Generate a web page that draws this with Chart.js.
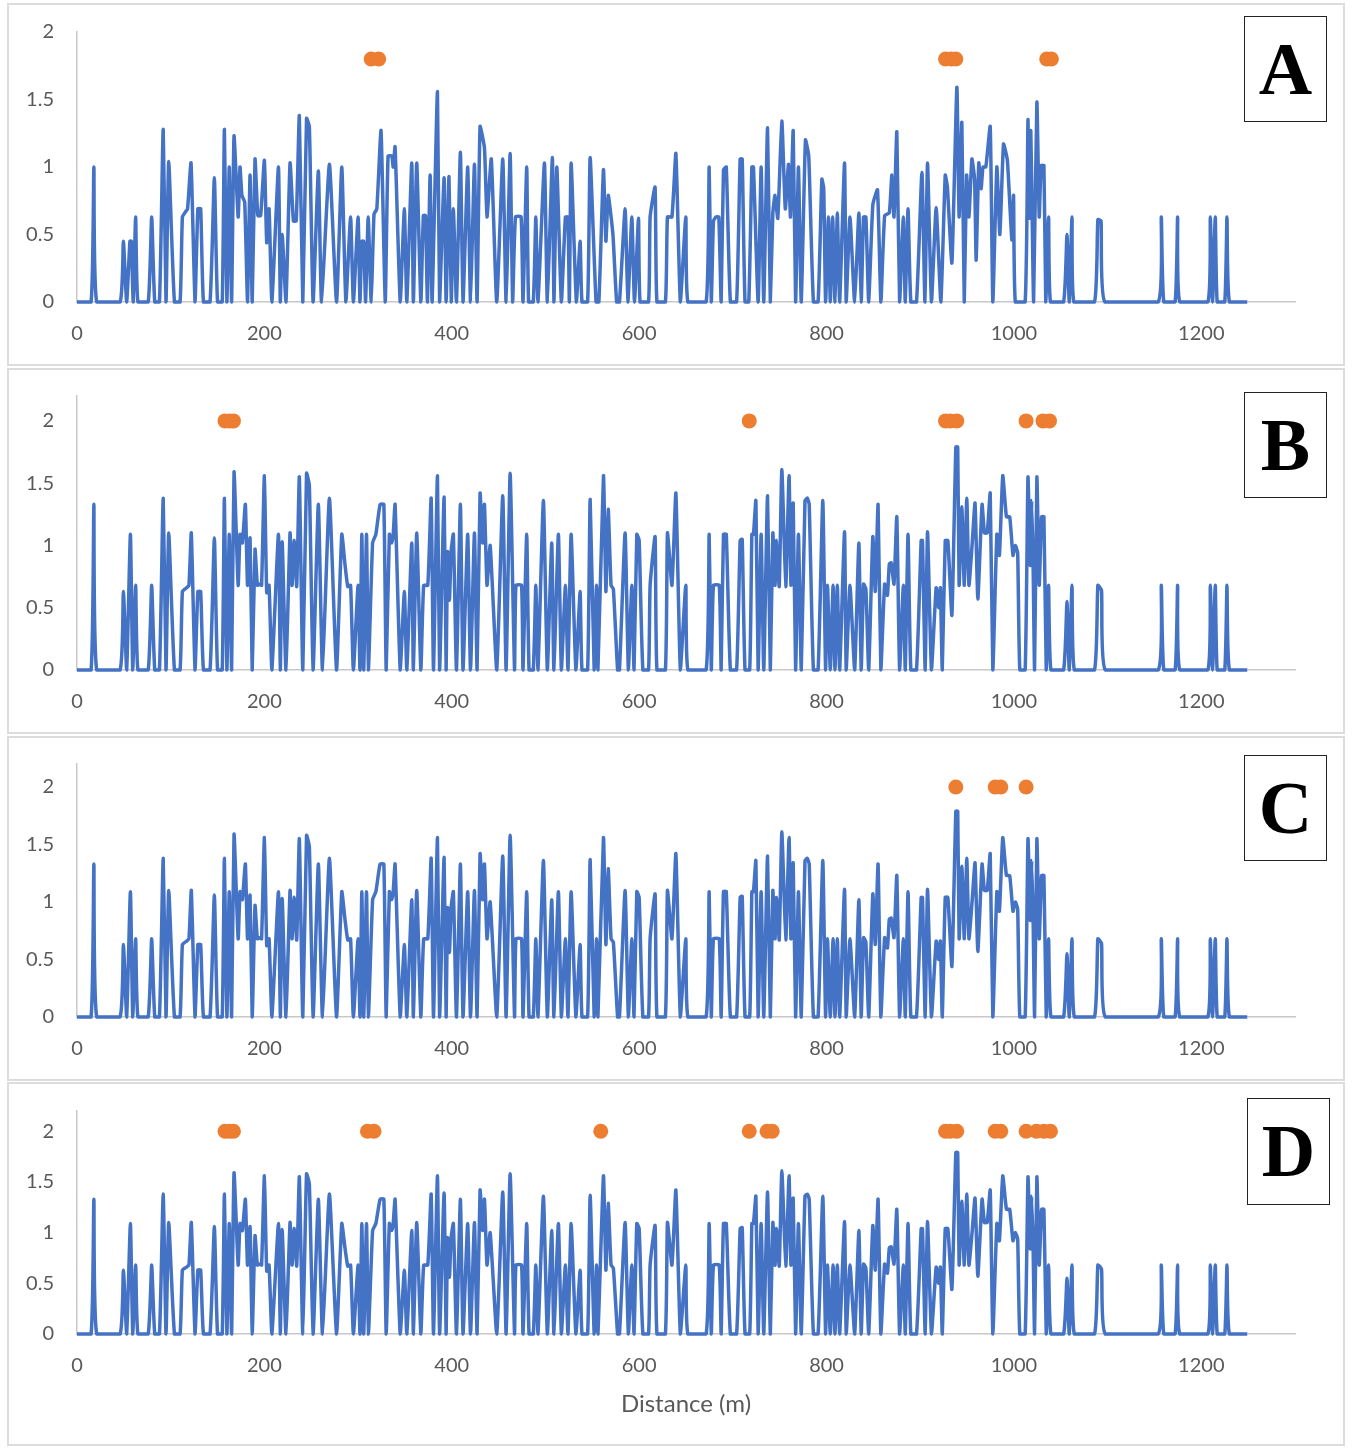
<!DOCTYPE html>
<html>
<head>
<meta charset="utf-8">
<script src="https://cdn.jsdelivr.net/npm/chart.js@4.4.1/dist/chart.umd.min.js"></script>
<style>
  body { margin: 0; background: #fff; width: 1352px; height: 1448px; position: relative; overflow: hidden; }
  .panel { position: absolute; left: 7px; width: 1338px; border: 2px solid #dcdcdc; box-sizing: border-box; }
  canvas { position: absolute; }
  .tag { position: absolute; width: 83px; height: 106px; border: 1.5px solid #222; background: #fff; box-sizing: border-box;
         display: flex; align-items: center; justify-content: center;
         font-family: "Liberation Serif", "DejaVu Serif", serif; font-weight: bold; font-size: 74px; color: #000; }
</style>
</head>
<body>
<div class="panel" style="top:3px;height:363px"></div>
<div class="panel" style="top:368px;height:366px"></div>
<div class="panel" style="top:736px;height:345px"></div>
<div class="panel" style="top:1082px;height:364px"></div>

<canvas id="chartA" width="1336" height="358" style="left:9px;top:5px"></canvas>
<canvas id="chartB" width="1336" height="361" style="left:9px;top:370px"></canvas>
<canvas id="chartC" width="1336" height="340" style="left:9px;top:738px"></canvas>
<canvas id="chartD" width="1336" height="359" style="left:9px;top:1084px"></canvas>

<div class="tag" style="left:1244px;top:16px">A</div>
<div class="tag" style="left:1244px;top:392px">B</div>
<div class="tag" style="left:1244px;top:755px">C</div>
<div class="tag" style="left:1247px;top:1098px;height:107px">D</div>

<script>
// 축 눈금
const xTicks = [0, 200, 400, 600, 800, 1000, 1200];
const yTicks = [0, 0.5, 1, 1.5, 2];

// 패널 A 선 데이터 [거리(m), 값]
const lineA = [
  [0,0],[15,0],[18,1.0],[21,0],[46,0],[49.5,0.45],[53,0],[56.5,0.45],[58,0.45],[60,0],[62.6,0.63],[65,0],
  [76,0],[79.7,0.63],[83,0],[88,0],[92,1.28],[95,0],[97.9,1.04],[104,0],[110,0],[112.5,0.63],[116,0.67],
  [118,0.69],[121.7,1.03],[126,0],[129,0.69],[132,0.69],[135,0],[142,0],[146.6,0.92],[150,0],[155,0],
  [157.3,1.28],[160,0],[162.5,1.0],[165,0],[167.6,1.23],[172,0.63],[174,1.0],[176,0.79],[179,0.74],[182,0],
  [184.7,0.94],[187,0],[190,1.06],[193,0.64],[196,0.64],[200,1.05],[202.5,0.44],[205,0.69],[208,0],
  [215,1.0],[217,0],[219,0.5],[223,0],[227.4,1.03],[231,0.6],[234,0.6],[237.3,1.38],[241,0],[245,1.36],
  [248,1.3],[252,0],[257.6,0.97],[261,0],[269.4,1.02],[277,0],[282.6,1.0],[287,0],[292,0.63],[295,0],
  [300,0.63],[302,0],[304,0.45],[306,0.45],[308,0],[310.8,0.63],[314,0],[317,0.65],[320,0.69],[324.5,1.27],
  [329,0],[332,1.08],[336,1.08],[337.5,1.0],[339.5,1.15],[345,0],[349.4,0.69],[352,0],[357.3,1.03],[359,0],
  [362.6,1.03],[367,0],[369.7,0.64],[372,0.64],[374,0],[376.9,0.94],[379,0],[384.7,1.56],[387,0],
  [391.8,0.92],[394,0],[397,0.93],[399.5,0],[401.7,0.69],[405,0],[409.2,1.11],[412,0],[417,1.0],[420,0],
  [424.2,1.02],[427,0],[430.2,1.3],[434.9,1.14],[437.6,0.63],[442.2,1.06],[448,0],[454.4,1.06],[458,0],
  [462.3,1.1],[465,0],[468,0.63],[474,0.63],[476,0],[480,1.0],[482,0],[487,0],[489.7,0.63],[492,0],
  [498.9,1.03],[502,0],[507.4,1.07],[509,0],[512.1,1.0],[517,0],[521.3,0.63],[524,0.63],[525.5,0],
  [527.4,1.03],[533,0],[537,0.45],[539,0],[545,0],[547.7,1.07],[554,0],[557,0],[561.9,0.98],[564.5,0.45],
  [567,0.79],[572,0.5],[576,0],[579,0],[585,0.69],[588,0],[592.2,0.63],[595,0],[599.3,0.62],[601,0],
  [610,0],[611.7,0.63],[617,0.85],[619,0],[628,0],[630.2,0.63],[635,0.63],[639.2,1.1],[644,0],
  [649.8,0.63],[652,0],[671.5,0],[674.7,1.0],[677,0],[679.3,0.6],[682,0.63],[685,0.63],[687.5,0],
  [690,0.98],[693,1.0],[697.4,0],[704,0],[707.8,1.06],[710,1.06],[713,0],[717,0],[720.3,1.0],[722,1.0],
  [727,0],[730.2,1.0],[733,0],[737,1.29],[740,0],[742.7,0.66],[745,0.79],[748,0.62],[752.3,1.34],
  [756,0.69],[759.4,1.02],[761.5,0.63],[764.4,1.27],[767,0],[770,1.0],[773,0],[777.5,1.2],[781,1.08],
  [786,0],[791,0],[795,0.91],[797,0.84],[799,0],[802,0.63],[804,0],[806.5,0.63],[809,0],[811.5,0.66],
  [814,0],[819.2,1.03],[821,0],[825,0.63],[830,0],[834.5,0.66],[837,0],[839.5,0.63],[842,0.63],[845,0],
  [849.4,0.72],[854.4,0.83],[858,0],[862,0.64],[867,0.66],[869.7,0.94],[872,0.63],[875,1.26],[878,0],
  [882,0.63],[884,0],[887,0.69],[890,0],[896,0],[901.8,0.96],[905,0],[907.8,1.03],[912,0],[917,0.7],
  [922,0],[926.7,0.94],[929,0.85],[933.8,0.29],[939.1,1.59],[941.5,0.63],[944.4,1.33],[947,0],
  [949.5,0.94],[952,0.63],[955.1,1.06],[958,0.91],[959.7,0.31],[962.5,1.03],[965,0.84],[967,1.0],
  [970,1.0],[974.7,1.3],[977.5,0],[981.8,1.0],[985,0.5],[988.9,1.17],[993,1.05],[997.8,0.46],
  [999.6,0.79],[1001.5,0],[1012,0],[1015,1.35],[1016.5,0.62],[1018,1.27],[1019.5,0.62],[1021,0],
  [1024.5,1.48],[1027,0.63],[1029,1.01],[1032,1.01],[1034,0],[1037,0.63],[1039,0],[1053,0],[1056.6,0.5],
  [1059,0],[1062,0.63],[1064,0],[1086,0],[1089.6,0.61],[1093,0.6],[1097,0],[1154,0],[1157.3,0.63],
  [1160,0],[1172,0],[1174.7,0.63],[1177,0],[1207,0],[1209.6,0.63],[1212,0],[1214.9,0.63],[1217,0],
  [1225,0],[1227.4,0.63],[1230,0],[1249,0]
];

// 패널 B, C, D 공통 선 데이터 [거리(m), 값]
const lineB = [
  [0,0],[15,0],[18,1.33],[21,0],[46,0],[49.5,0.63],[53,0],[57,1.09],[59.5,0],[62.6,0.68],[65,0],[76,0],
  [79.7,0.68],[83,0],[88,0],[92,1.38],[95,0],[97.9,1.1],[104,0],[110,0],[112.5,0.63],[117,0.66],
  [119.5,0.68],[122,1.1],[126,0],[129,0.63],[132,0.63],[135,0],[142,0],[146.6,1.06],[150,0],[155,0],
  [157.3,1.38],[160,0],[162.5,1.09],[165,0],[167.6,1.59],[172,0.68],[174,1.09],[176.5,1.02],[179.7,1.33],
  [182,0.68],[184.7,1.06],[187,0],[190,0.97],[192.5,0.68],[195,0.69],[197,0.68],[200,1.56],[202.5,0.62],
  [205,0.68],[208,0],[215,1.09],[217,0],[219,1.03],[223,0],[227.4,1.1],[229.5,0.68],[232,1.04],
  [234.5,0.67],[237.3,1.55],[241,0],[245,1.58],[248,1.48],[252,0],[257.6,1.33],[262,0],[269.4,1.38],
  [277,0],[282.6,1.09],[286,0.85],[289,0.67],[292,0.68],[295,0],[300,0.68],[302,0],[304,1.09],[306,0],
  [309,1.09],[311,0],[315.5,1.02],[319,1.09],[323.5,1.33],[327.5,1.33],[330,0],[333.4,1.09],[336,1.02],
  [337.5,1.09],[339.5,1.33],[345,0],[349.4,0.63],[352,0],[357.3,1.02],[359,0],[362.6,1.1],[367,0],
  [370,0.68],[374.4,0.68],[378,1.38],[380.5,0],[384.7,1.56],[387,0],[391.8,1.39],[394,0],[395.5,0.95],
  [397.5,0.56],[399.3,0.95],[401.7,1.09],[405,0],[409.2,1.33],[412,0],[417,1.09],[420,0],[424.2,1.1],
  [427,0],[430.2,1.42],[433,1.02],[434.9,1.33],[437.6,0.68],[441,1.0],[448,0],[454.4,1.4],[458,0],
  [462.3,1.58],[467,0],[468.5,0.68],[474.5,0.68],[476,0],[480,1.09],[482.5,0],[487,0],[489.7,0.68],
  [492,0],[497.8,1.36],[502,0],[506.7,1.02],[509,0],[513.8,1.09],[517,0],[521.3,0.68],[524,0],
  [527.4,1.09],[532.5,0],[537,0.63],[539,0],[545,0],[547.7,1.37],[552,0],[554.5,0.68],[556,0],
  [561.9,1.56],[564.5,0.63],[567,1.29],[570,0.68],[572.5,0.65],[577,0],[579,0],[585,1.1],[588.5,0],
  [592.2,0.68],[594.5,0],[597.5,1.09],[600,1.04],[604,0],[610,0],[611.7,0.68],[617,1.07],[619,0],
  [628,0],[630.2,1.1],[635,0.68],[639.2,1.42],[644,0],[649.8,0.68],[652,0],[671.5,0],[674.7,1.09],
  [677,0],[679.3,0.68],[685.5,0.68],[687.5,0],[690,1.09],[693,1.09],[697.4,0],[704,0],[707.8,1.04],
  [710,1.05],[713,0],[718,0],[720.3,1.09],[722,1.09],[724.6,1.36],[727,0],[730.2,1.09],[733,0],
  [737,1.4],[740,0],[742.7,1.1],[745,0.68],[746.7,1.04],[749.5,0.67],[752.3,1.61],[756.5,0.67],
  [760,1.56],[762,0.68],[764.4,1.34],[767,0],[770,1.09],[773,0],[777,1.36],[779.5,1.38],[781.5,1.33],
  [786,0],[791,0],[796,1.36],[799,0],[801,0.68],[804,0],[807,0.68],[809,0],[811.5,0.68],[814,0],
  [819.2,1.11],[821,0],[825,0.68],[830,0],[834.5,1.02],[837,0],[839.5,0.69],[842,0.65],[845,0],
  [849.4,1.07],[852,0.63],[855,1.33],[858,0],[862,0.69],[865,0.6],[867,0.85],[869,0.86],[872,0.69],
  [875,1.23],[878,0],[882,0.68],[884,0],[887,1.09],[890,0],[896,0],[901,1.04],[902.4,1.04],[905.3,0],
  [907.8,1.11],[912,0],[917,0.66],[919.5,0.5],[921.5,0.66],[923.5,0],[926.7,1.04],[929.5,1.04],
  [933.8,0.44],[938,1.79],[940,1.79],[941.5,0.68],[944.4,1.31],[947,0.68],[949.7,1.38],[952,0.68],
  [955.5,1.02],[958.5,1.34],[961.5,0.57],[966,1.33],[968.5,1.1],[971.5,1.1],[974.7,1.42],[977.5,0],
  [981.8,1.09],[984.5,0.92],[988.1,1.56],[992,1.23],[995.5,1.23],[999,0.92],[1001.5,1.0],[1004,0.94],
  [1006.3,0],[1012,0],[1015,1.55],[1017.5,0.84],[1019,1.36],[1020.5,0.84],[1022,0],[1024.5,1.55],
  [1027,0.68],[1029.5,1.23],[1032,1.23],[1034.5,0],[1037,0.68],[1039.5,0],[1053,0],[1056.6,0.55],
  [1059,0],[1062,0.68],[1064.5,0],[1086,0],[1089.6,0.68],[1093.5,0.64],[1097.5,0],[1154,0],
  [1157.3,0.68],[1160,0],[1172,0],[1174.7,0.68],[1177,0],[1207,0],[1209.6,0.68],[1212,0],[1214.9,0.68],
  [1217,0],[1225,0],[1227.4,0.68],[1230,0],[1249,0]
];

// 주황색 점 위치 (거리, m)
const dotsA = [314, 322, 927, 933, 938, 1035, 1040];
const dotsB = [158, 163, 167, 717.5, 927, 932, 939, 1013, 1031, 1038];
const dotsC = [938, 980, 986, 1013];
const dotsD = [158, 163, 167, 310, 317, 559, 717.5, 736.5, 742, 927, 932, 939, 980, 986, 1013, 1024, 1032, 1039];
const dotLevelA = 1.8;
const dotLevel = 2;

const axisFont = { family: 'Lato, "Open Sans", sans-serif', size: 20 };
const grey = '#595959';

function makeChart(id, line, dots, level, yMax, padTop, xHeight, padBottom, showTitle) {
  const ctx = document.getElementById(id).getContext('2d');
  return new Chart(ctx, {
    type: 'scatter',
    data: {
      datasets: [{
        data: dots.map(d => ({ x: d, y: level })),
        showLine: false,
        pointRadius: 7.5,
        pointHoverRadius: 7.5,
        pointBackgroundColor: '#ED7D31',
        pointBorderWidth: 0,
        clip: false
      }, {
        data: line.map(p => ({ x: p[0], y: p[1] })),
        showLine: true,
        borderColor: '#4472C4',
        borderWidth: 3.5,
        borderJoinStyle: 'round',
        tension: 0.15,
        pointRadius: 0,
        clip: 4
      }]
    },
    options: {
      responsive: false,
      animation: false,
      devicePixelRatio: 1,
      layout: { padding: { top: padTop, right: 50, left: 0, bottom: padBottom } },
      plugins: { legend: { display: false }, tooltip: { enabled: false } },
      scales: {
        x: {
          type: 'linear',
          min: 0,
          max: 1300,
          afterBuildTicks: s => { s.ticks = xTicks.map(v => ({ value: v })); },
          afterFit: s => { s.height = xHeight; },
          grid: { display: false, drawTicks: false },
          border: { color: '#c8c8c8', width: 1.5 },
          ticks: { color: grey, font: axisFont, padding: 20, maxRotation: 0, callback: v => String(v) },
          title: {
            display: showTitle,
            text: 'Distance (m)',
            color: grey,
            font: { family: axisFont.family, size: 24 },
            padding: { top: 10, bottom: 0 }
          }
        },
        y: {
          min: 0,
          max: yMax,
          afterBuildTicks: s => { s.ticks = yTicks.map(v => ({ value: v })); },
          // 라벨 간격 때문에 생기는 위쪽 여백 제거
          afterFit: s => { s.width = 68; s.paddingTop = 10; s.paddingBottom = 10; },
          grid: { display: false, drawTicks: false },
          border: { color: '#c8c8c8', width: 1.5 },
          ticks: { color: grey, font: axisFont, padding: 23, callback: v => String(v) }
        }
      }
    }
  });
}

makeChart('chartA', lineA, dotsA, dotLevelA, 2, 27, 61, 0, false);
makeChart('chartB', lineB, dotsB, dotLevel, 2.2, 26, 61, 0, false);
makeChart('chartC', lineB, dotsC, dotLevel, 2.2, 26, 61, 0, false);
makeChart('chartD', lineB, dotsD, dotLevel, 2.2, 27, 85, 24, true);
</script>
</body>
</html>
